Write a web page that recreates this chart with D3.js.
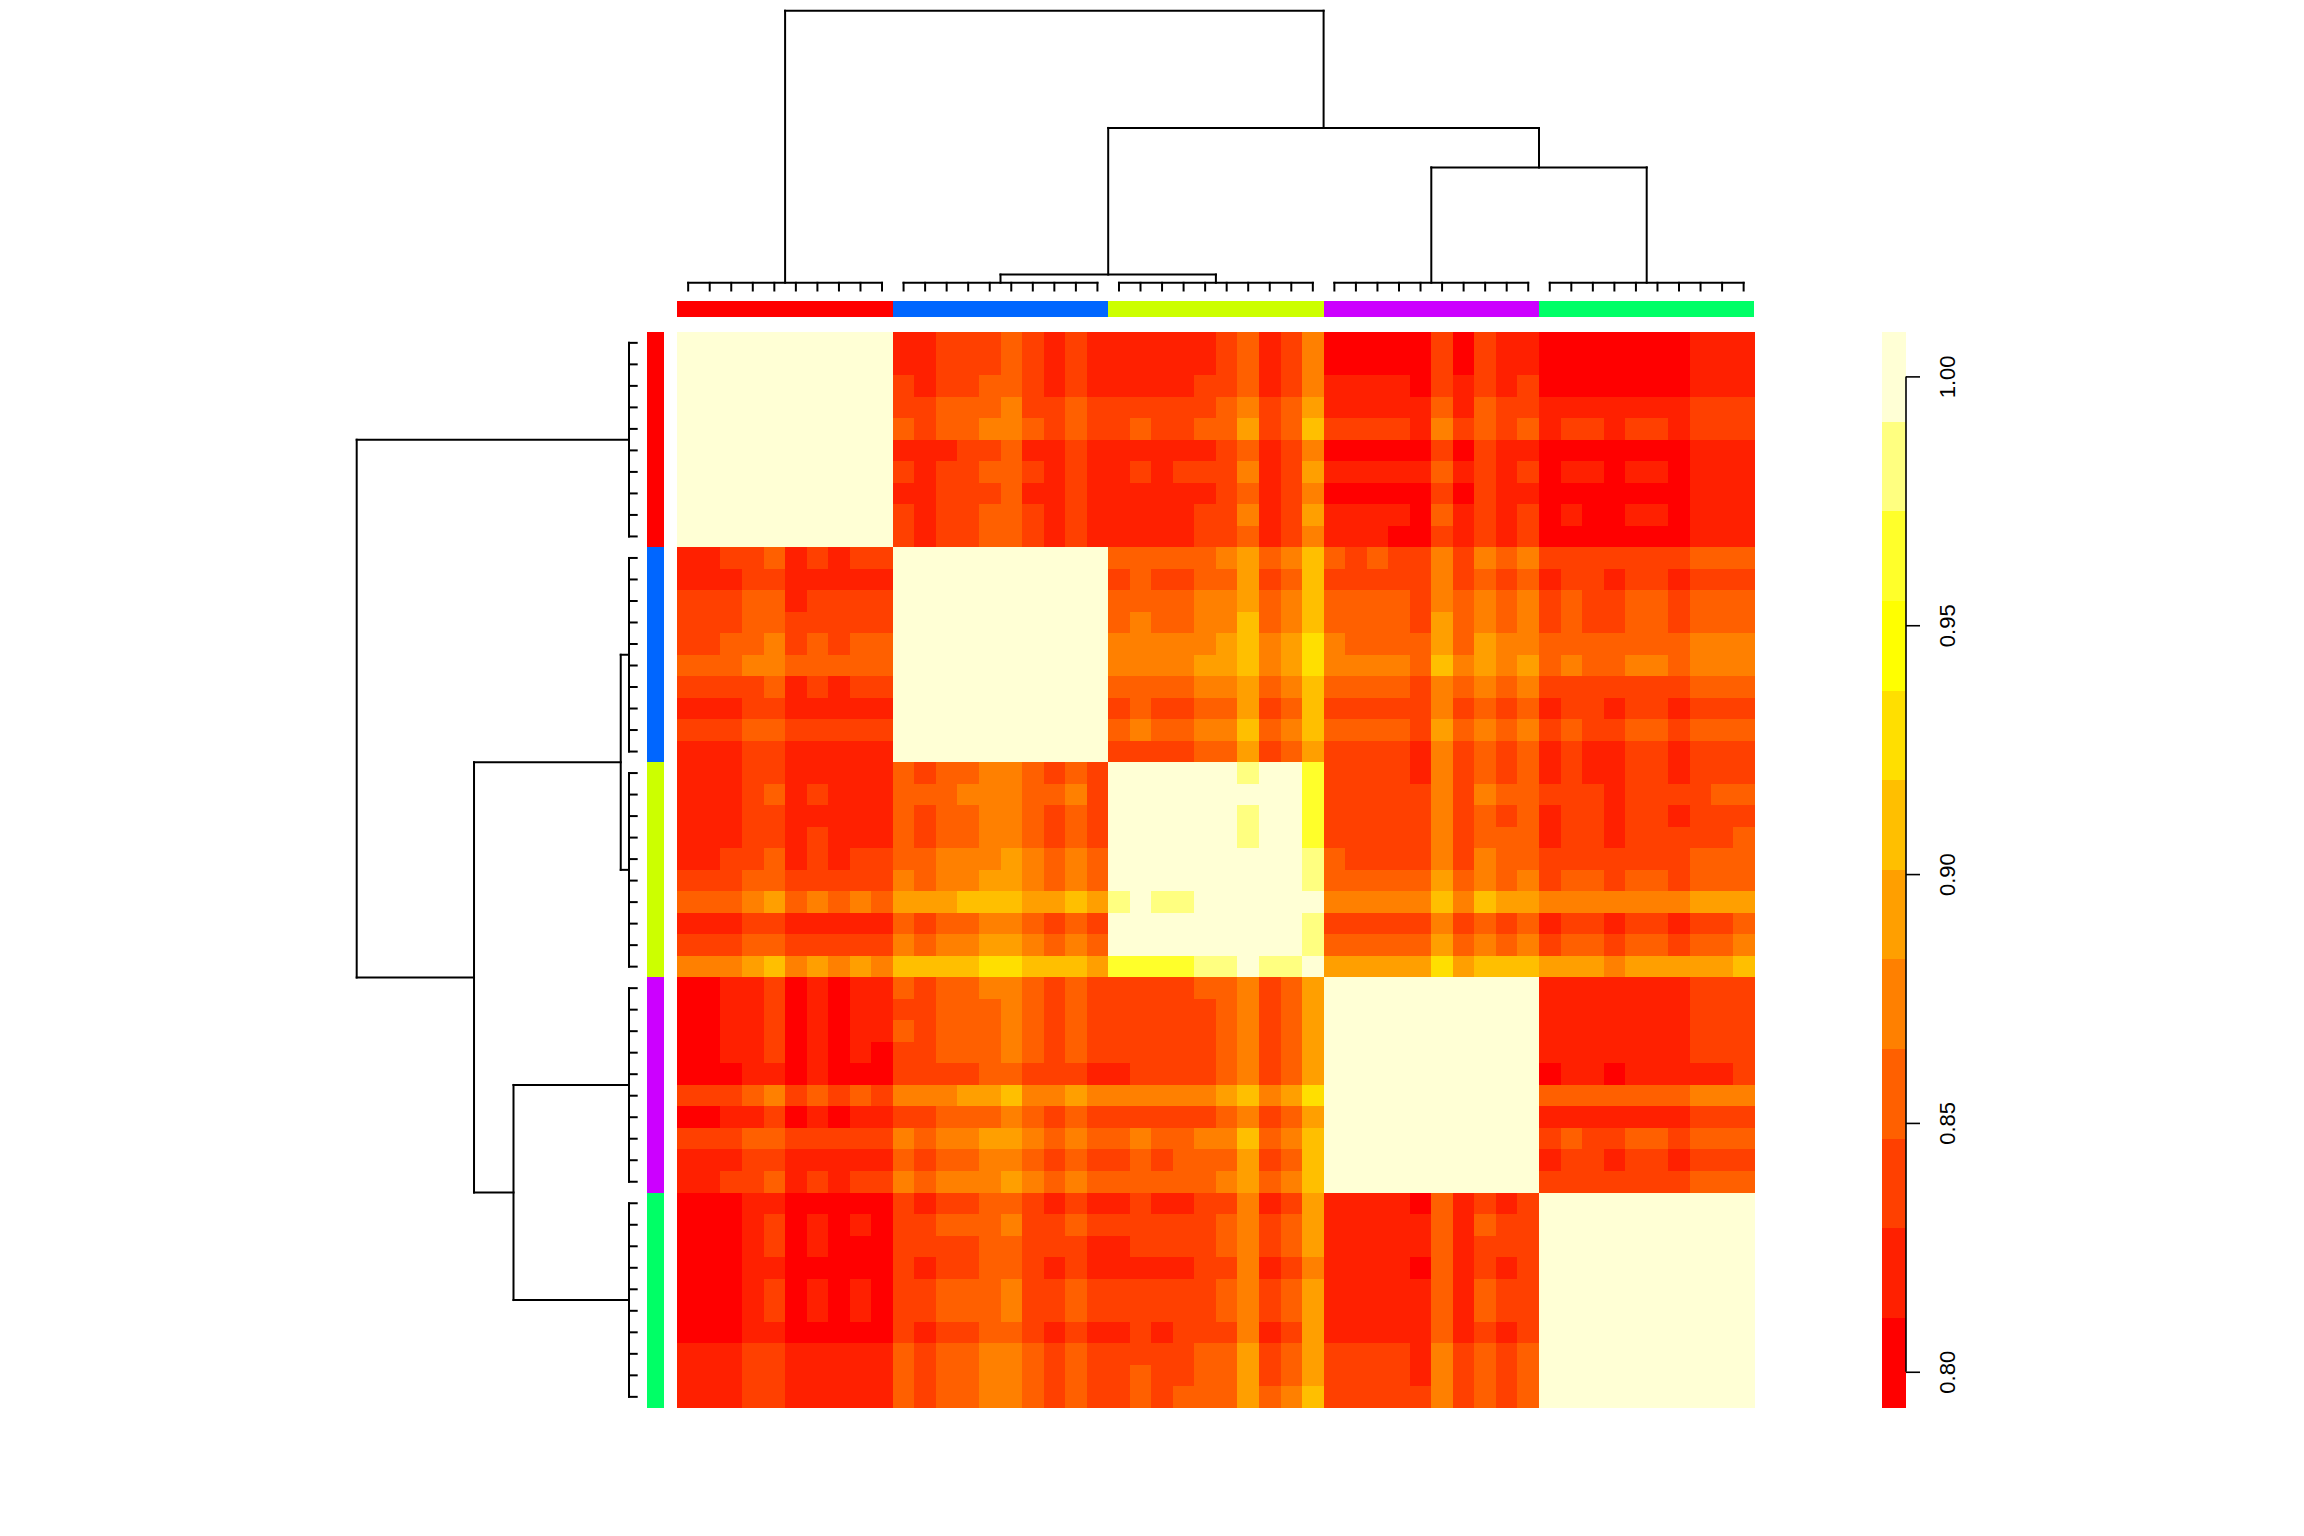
<!DOCTYPE html>
<html><head><meta charset="utf-8">
<script src="https://cdn.jsdelivr.net/npm/d3@7"></script>
<style>html,body{margin:0;padding:0;background:#fff;} svg{display:block;}</style>
</head><body>
<svg id="chart" width="2304" height="1536"></svg>
<script>
// ---------------- data ----------------
const clusterNames  = ["red", "blue", "yellow", "purple", "green"];
const clusterColors = ["#FF0000", "#0066FF", "#CCFF00", "#CC00FF", "#00FF66"];
const sampleIds = [
  "s01","s02","s03","s04","s05","s06","s07","s08","s09","s10",
  "s11","s12","s13","s14","s15","s16","s17","s18","s19","s20",
  "s21","s22","s23","s24","s25","s26","s27","s28","s29","s30",
  "s31","s32","s33","s34","s35","s36","s37","s38","s39","s40",
  "s41","s42","s43","s44","s45","s46","s47","s48","s49","s50"];
const sampleCluster = [
  0,0,0,0,0,0,0,0,0,0, 1,1,1,1,1,1,1,1,1,1, 2,2,2,2,2,2,2,2,2,2,
  3,3,3,3,3,3,3,3,3,3, 4,4,4,4,4,4,4,4,4,4];

// heat.colors(12) and colour key
const heatColors = ["#FF0000","#FF2000","#FF4000","#FF6000","#FF8000","#FF9F00",
                    "#FFBF00","#FFDF00","#FFFF00","#FFFF2A","#FFFF80","#FFFFD5"];
const colorDomain = [0.7928, 1.0089];
const keyTicks = [0.80, 0.85, 0.90, 0.95, 1.00];

// dendrogram merge heights (relative to root)
const hRoot = 1.0, hRest = 0.581, hBlueYellow = 0.057, hPurpleGreen = 0.44, hWithin = 0.0275;

// symmetric correlation matrix, upper triangle: row i holds columns i..49
const corrUpper = [
[1,1,1,1,1,1,1,1,1,1, .82,.82,.84,.84,.84,.86,.84,.82,.84,.82, .82,.82,.82,.82,.82,.84,.86,.82,.84,.87, .80,.80,.80,.80,.80,.84,.80,.84,.82,.82, .80,.80,.80,.80,.80,.80,.80,.82,.82,.82],
[1,1,1,1,1,1,1,1,1, .82,.82,.84,.84,.84,.86,.84,.82,.84,.82, .82,.82,.82,.82,.82,.84,.86,.82,.84,.87, .80,.80,.80,.80,.80,.84,.80,.84,.82,.82, .80,.80,.80,.80,.80,.80,.80,.82,.82,.82],
[1,1,1,1,1,1,1,1, .84,.82,.84,.84,.86,.86,.84,.82,.84,.82, .82,.82,.82,.82,.84,.84,.86,.82,.84,.87, .82,.82,.82,.82,.80,.84,.82,.84,.82,.84, .80,.80,.80,.80,.80,.80,.80,.82,.82,.82],
[1,1,1,1,1,1,1, .84,.84,.86,.86,.86,.87,.84,.84,.86,.84, .84,.84,.84,.84,.84,.86,.87,.84,.86,.89, .82,.82,.82,.82,.82,.86,.82,.86,.84,.84, .82,.82,.82,.82,.82,.82,.82,.84,.84,.84],
[1,1,1,1,1,1, .86,.84,.86,.86,.87,.87,.86,.84,.86,.84, .84,.86,.84,.84,.86,.86,.89,.84,.86,.91, .84,.84,.84,.84,.82,.87,.84,.86,.84,.86, .82,.84,.84,.82,.84,.84,.82,.84,.84,.84],
[1,1,1,1,1, .82,.82,.82,.84,.84,.86,.82,.82,.84,.82, .82,.82,.82,.82,.82,.84,.86,.82,.84,.87, .80,.80,.80,.80,.80,.84,.80,.84,.82,.82, .80,.80,.80,.80,.80,.80,.80,.82,.82,.82],
[1,1,1,1, .84,.82,.84,.84,.86,.86,.84,.82,.84,.82, .82,.84,.82,.84,.84,.84,.87,.82,.84,.89, .82,.82,.82,.82,.82,.86,.82,.84,.82,.84, .80,.82,.82,.80,.82,.82,.80,.82,.82,.82],
[1,1,1, .82,.82,.84,.84,.84,.86,.82,.82,.84,.82, .82,.82,.82,.82,.82,.84,.86,.82,.84,.87, .80,.80,.80,.80,.80,.84,.80,.84,.82,.82, .80,.80,.80,.80,.80,.80,.80,.82,.82,.82],
[1,1, .84,.82,.84,.84,.86,.86,.84,.82,.84,.82, .82,.82,.82,.82,.84,.84,.87,.82,.84,.89, .82,.82,.82,.82,.80,.86,.82,.84,.82,.84, .80,.82,.80,.80,.82,.82,.80,.82,.82,.82],
[1, .84,.82,.84,.84,.86,.86,.84,.82,.84,.82, .82,.82,.82,.82,.84,.84,.86,.82,.84,.87, .82,.82,.82,.80,.80,.84,.82,.84,.82,.84, .80,.80,.80,.80,.80,.80,.80,.82,.82,.82],
[1,1,1,1,1,1,1,1,1,1, .86,.86,.86,.86,.86,.87,.89,.86,.87,.91, .86,.84,.86,.84,.84,.87,.84,.87,.86,.87, .84,.84,.84,.84,.84,.84,.84,.86,.86,.86],
[1,1,1,1,1,1,1,1,1, .84,.86,.84,.84,.86,.86,.89,.84,.86,.91, .84,.84,.84,.84,.84,.87,.84,.86,.84,.86, .82,.84,.84,.82,.84,.84,.82,.84,.84,.84],
[1,1,1,1,1,1,1,1, .86,.86,.86,.86,.87,.87,.89,.86,.87,.91, .86,.86,.86,.86,.84,.87,.86,.87,.86,.87, .84,.86,.84,.84,.86,.86,.84,.86,.86,.86],
[1,1,1,1,1,1,1, .86,.87,.86,.86,.87,.87,.91,.86,.87,.91, .86,.86,.86,.86,.84,.89,.86,.87,.86,.87, .84,.86,.84,.84,.86,.86,.84,.86,.86,.86],
[1,1,1,1,1,1, .87,.87,.87,.87,.87,.89,.91,.87,.89,.93, .87,.86,.86,.86,.86,.89,.86,.89,.87,.87, .86,.86,.86,.86,.86,.86,.86,.87,.87,.87],
[1,1,1,1,1, .87,.87,.87,.87,.89,.89,.91,.87,.89,.93, .87,.87,.87,.87,.86,.91,.87,.89,.87,.89, .86,.87,.86,.86,.87,.87,.86,.87,.87,.87],
[1,1,1,1, .86,.86,.86,.86,.87,.87,.89,.86,.87,.91, .86,.86,.86,.86,.84,.87,.86,.87,.86,.87, .84,.84,.84,.84,.84,.84,.84,.86,.86,.86],
[1,1,1, .84,.86,.84,.84,.86,.86,.89,.84,.86,.91, .84,.84,.84,.84,.84,.87,.84,.86,.84,.86, .82,.84,.84,.82,.84,.84,.82,.84,.84,.84],
[1,1, .86,.87,.86,.86,.87,.87,.91,.86,.87,.91, .86,.86,.86,.86,.84,.89,.86,.87,.86,.87, .84,.86,.84,.84,.86,.86,.84,.86,.86,.86],
[1, .84,.84,.84,.84,.86,.86,.89,.84,.86,.89, .84,.84,.84,.84,.82,.87,.84,.86,.84,.86, .82,.84,.82,.82,.84,.84,.82,.84,.84,.84],
[1,1,1,1,1,1,.98,1,1,.96, .84,.84,.84,.84,.82,.87,.84,.86,.84,.86, .82,.84,.82,.82,.84,.84,.82,.84,.84,.84],
[1,1,1,1,1,1,1,1,.96, .84,.84,.84,.84,.84,.87,.84,.87,.86,.86, .84,.84,.84,.82,.84,.84,.84,.84,.86,.86],
[1,1,1,1,.98,1,1,.96, .84,.84,.84,.84,.84,.87,.84,.86,.84,.86, .82,.84,.84,.82,.84,.84,.82,.84,.84,.84],
[1,1,1,.98,1,1,.96, .84,.84,.84,.84,.84,.87,.84,.86,.86,.86, .82,.84,.84,.82,.84,.84,.84,.84,.84,.86],
[1,1,1,1,1,.98, .86,.84,.84,.84,.84,.87,.84,.87,.86,.86, .84,.84,.84,.84,.84,.84,.84,.86,.86,.86],
[1,1,1,1,.98, .86,.86,.86,.86,.86,.89,.86,.87,.86,.87, .84,.86,.86,.84,.86,.86,.84,.86,.86,.86],
[1,1,1,1, .87,.87,.87,.87,.87,.91,.87,.91,.89,.89, .87,.87,.87,.87,.87,.87,.87,.89,.89,.89],
[1,1,.98, .84,.84,.84,.84,.84,.87,.84,.86,.84,.86, .82,.84,.84,.82,.84,.84,.82,.84,.84,.86],
[1,.98, .86,.86,.86,.86,.86,.89,.86,.87,.86,.87, .84,.86,.86,.84,.86,.86,.84,.86,.86,.87],
[1, .89,.89,.89,.89,.89,.93,.89,.91,.91,.91, .89,.89,.89,.87,.89,.89,.89,.89,.89,.91],
[1,1,1,1,1,1,1,1,1,1, .82,.82,.82,.82,.82,.82,.82,.84,.84,.84],
[1,1,1,1,1,1,1,1,1, .82,.82,.82,.82,.82,.82,.82,.84,.84,.84],
[1,1,1,1,1,1,1,1, .82,.82,.82,.82,.82,.82,.82,.84,.84,.84],
[1,1,1,1,1,1,1, .82,.82,.82,.82,.82,.82,.82,.84,.84,.84],
[1,1,1,1,1,1, .80,.82,.82,.80,.82,.82,.82,.82,.82,.84],
[1,1,1,1,1, .86,.86,.86,.86,.86,.86,.86,.87,.87,.87],
[1,1,1,1, .82,.82,.82,.82,.82,.82,.82,.84,.84,.84],
[1,1,1, .84,.86,.84,.84,.86,.86,.84,.86,.86,.86],
[1,1, .82,.84,.84,.82,.84,.84,.82,.84,.84,.84],
[1, .84,.84,.84,.84,.84,.84,.84,.86,.86,.86],
[1,1,1,1,1,1,1,1,1,1],
[1,1,1,1,1,1,1,1,1],
[1,1,1,1,1,1,1,1],
[1,1,1,1,1,1,1],
[1,1,1,1,1,1],
[1,1,1,1,1],
[1,1,1,1],
[1,1,1],
[1,1],
[1]
];

// ---------------- build table ----------------
const N = sampleIds.length;
const corr = Array.from({length: N}, () => new Array(N).fill(1));
corrUpper.forEach((row, i) => {
  if (row.length !== N - i) console.warn("row", i, "length", row.length);
  row.forEach((v, k) => { const j = i + k; corr[i][j] = v; corr[j][i] = v; });
});
const cells = [];
for (let i = 0; i < N; i++) for (let j = 0; j < N; j++)
  cells.push({row: sampleIds[i], col: sampleIds[j], value: corr[i][j]});

// ---------------- layout ----------------
const svg = d3.select("#chart");
svg.append("rect").attr("width", 2304).attr("height", 1536).attr("fill", "#fff");

const heat = {x0: 677.4, x1: 1754.4, y0: 332.1, y1: 1407.6};
const x = d3.scaleBand().domain(sampleIds).range([heat.x0, heat.x1]);
const y = d3.scaleBand().domain(sampleIds).range([heat.y0, heat.y1]);
const color = d3.scaleQuantize().domain(colorDomain).range(heatColors);

// heatmap cells
svg.append("g").selectAll("rect").data(cells).join("rect")
  .attr("x", d => x(d.col)).attr("y", d => y(d.row))
  .attr("width", x.bandwidth() + 0.6).attr("height", y.bandwidth() + 0.6)
  .attr("fill", d => color(d.value))
  .attr("shape-rendering", "crispEdges");

// side colour bars
const clusterSpans = clusterNames.map((name, c) => {
  const ids = sampleIds.filter((s, i) => sampleCluster[i] === c);
  return {name, color: clusterColors[c], first: ids[0], last: ids[ids.length - 1]};
});
svg.append("g").selectAll("rect").data(clusterSpans).join("rect")
  .attr("x", d => x(d.first)).attr("width", d => x(d.last) + x.bandwidth() - x(d.first))
  .attr("y", 301).attr("height", 16).attr("fill", d => d.color)
  .attr("shape-rendering", "crispEdges");
svg.append("g").selectAll("rect").data(clusterSpans).join("rect")
  .attr("y", d => y(d.first)).attr("height", d => y(d.last) + y.bandwidth() - y(d.first))
  .attr("x", 647).attr("width", 17).attr("fill", d => d.color)
  .attr("shape-rendering", "crispEdges");

// ---------------- dendrograms ----------------
function clusterNode(c) {
  return {h: hWithin, children: sampleIds.filter((s, i) => sampleCluster[i] === c).map(id => ({h: 0, id}))};
}
const treeData = {h: hRoot, children: [
  clusterNode(0),
  {h: hRest, children: [
    {h: hBlueYellow, children: [clusterNode(1), clusterNode(2)]},
    {h: hPurpleGreen, children: [clusterNode(3), clusterNode(4)]}
  ]}
]};

function drawDendro(band, hScale, horizontal) {
  const root = d3.hierarchy(treeData);
  root.eachAfter(n => {
    if (!n.children) n.pos = band(n.data.id) + band.bandwidth() / 2;
    else n.pos = (n.children[0].pos + n.children[n.children.length - 1].pos) / 2;
  });
  const segs = [];
  root.each(n => {
    if (!n.children) return;
    const a = n.children[0].pos, b = n.children[n.children.length - 1].pos;
    segs.push({p1: a, p2: b, h1: n.data.h, h2: n.data.h});
    n.children.forEach(c => segs.push({p1: c.pos, p2: c.pos, h1: c.data.h, h2: n.data.h}));
  });
  const g = svg.append("g").attr("stroke", "#000").attr("stroke-width", 2)
    .attr("stroke-linecap", "square").attr("fill", "none");
  g.selectAll("line").data(segs).join("line")
    .attr("x1", d => horizontal ? d.p1 : hScale(d.h1))
    .attr("x2", d => horizontal ? d.p2 : hScale(d.h2))
    .attr("y1", d => horizontal ? hScale(d.h1) : d.p1)
    .attr("y2", d => horizontal ? hScale(d.h2) : d.p2);
}
drawDendro(x, d3.scaleLinear().domain([0, 1]).range([290.5, 10.7]), true);
drawDendro(y, d3.scaleLinear().domain([0, 1]).range([636.7, 356.7]), false);

// ---------------- colour key ----------------
const keyY = d3.scaleLinear().domain(colorDomain).range([heat.y1, heat.y0]);
const keyG = svg.append("g");
keyG.selectAll("rect").data(heatColors).join("rect")
  .attr("x", 1882).attr("width", 24)
  .attr("y", c => keyY(color.invertExtent(c)[1]))
  .attr("height", c => keyY(color.invertExtent(c)[0]) - keyY(color.invertExtent(c)[1]))
  .attr("fill", c => c).attr("shape-rendering", "crispEdges");

const axisG = svg.append("g").attr("transform", "translate(1906,0)")
  .call(d3.axisRight(keyY).tickValues(keyTicks).tickFormat(d3.format(".2f")).tickSize(14));
axisG.select(".domain").remove();
axisG.append("line")
  .attr("x1", 0).attr("x2", 0)
  .attr("y1", keyY(keyTicks[0])).attr("y2", keyY(keyTicks[keyTicks.length - 1]))
  .attr("stroke", "#000").attr("stroke-width", 1.6);
axisG.selectAll(".tick line").attr("stroke", "#000").attr("stroke-width", 1.6);
axisG.selectAll(".tick text")
  .attr("x", null).attr("dy", null)
  .attr("transform", "translate(41,0) rotate(-90)")
  .attr("text-anchor", "middle").attr("dominant-baseline", "central")
  .attr("fill", "#000")
  .style("font-family", "'Liberation Sans', Arial, sans-serif")
  .style("font-size", "22px");
</script>
</body></html>
